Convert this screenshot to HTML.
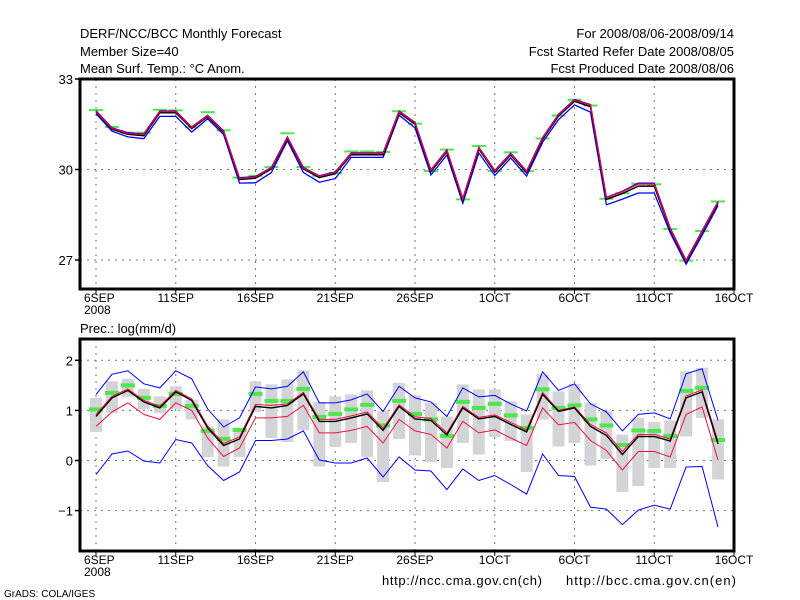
<!DOCTYPE html>
<html><head><meta charset="utf-8"><style>
body{margin:0;background:#fff}
svg{display:block;font-family:"Liberation Sans",sans-serif}
</style></head><body>
<svg id="chart" width="800" height="600" xmlns="http://www.w3.org/2000/svg">
<rect width="800" height="600" fill="#fff"/>
<g font-size="13" fill="#000">
<text x="80" y="38">DERF/NCC/BCC Monthly Forecast</text>
<text x="80" y="56">Member Size=40</text>
<text x="80" y="73">Mean Surf. Temp.: °C Anom.</text>
<text x="734" y="38" text-anchor="end">For 2008/08/06-2008/09/14</text>
<text x="734" y="56" text-anchor="end">Fcst Started Refer Date 2008/08/05</text>
<text x="734" y="73" text-anchor="end">Fcst Produced Date 2008/08/06</text>
<text x="80" y="333">Prec.: log(mm/d)</text>
<text x="382" y="585" textLength="160">http://ncc.cma.gov.cn(ch)</text>
<text x="566" y="585" textLength="170">http://bcc.cma.gov.cn(en)</text>
<text x="4" y="597" font-size="10">GrADS: COLA/IGES</text>
</g>
<g id="top"></g>
<g id="bot"></g>
</svg>
<script>
const xTickLabels = ["6SEP","11SEP","16SEP","21SEP","26SEP","1OCT","6OCT","11OCT","16OCT"];
const tTicks = [33,30,27];
const pTicks = [2,1,0,-1];
const tBlack = [31.91,31.33,31.17,31.12,31.88,31.88,31.36,31.75,31.23,29.67,29.71,30.02,31.03,30.02,29.73,29.86,30.49,30.49,30.49,31.88,31.5,29.93,30.59,28.98,30.68,29.91,30.48,29.89,31.0,31.77,32.26,32.08,29.01,29.2,29.45,29.45,28.0,26.94,27.92,28.88];
const tRed = [31.93,31.36,31.2,31.16,31.92,31.92,31.39,31.78,31.26,29.7,29.75,30.05,31.06,30.05,29.77,29.9,30.53,30.53,30.53,31.92,31.54,29.97,30.63,29.02,30.72,29.95,30.52,29.93,31.04,31.81,32.3,32.13,29.06,29.26,29.52,29.52,28.04,26.97,27.95,28.92];
const tBlueHi = [31.95,31.38,31.22,31.18,31.94,31.94,31.41,31.8,31.28,29.72,29.77,30.07,31.08,30.07,29.79,29.92,30.55,30.55,30.55,31.94,31.56,29.99,30.65,29.04,30.74,29.97,30.54,29.95,31.06,31.83,32.32,32.15,29.08,29.28,29.55,29.55,28.06,26.99,27.97,28.94];
const tBlueLo = [31.85,31.27,31.08,31.02,31.76,31.76,31.24,31.68,31.16,29.55,29.56,29.9,30.95,29.9,29.58,29.7,30.4,30.4,30.4,31.8,31.38,29.82,30.48,28.88,30.55,29.8,30.38,29.78,30.9,31.65,32.14,31.9,28.83,29.02,29.22,29.22,27.9,26.86,27.82,28.8];
const tObs = [31.97,31.41,31.22,31.22,31.98,31.96,31.4,31.9,31.3,29.73,29.79,30.08,31.2,30.08,29.79,29.88,30.6,30.6,30.58,31.93,31.52,29.95,30.66,29.01,30.78,29.95,30.57,29.95,31.03,31.79,32.31,32.12,29.03,29.21,29.53,29.51,28.03,26.98,27.96,28.94];
const pBlack = [0.88,1.25,1.4,1.17,1.05,1.37,1.2,0.65,0.3,0.43,1.08,1.05,1.1,1.33,0.78,0.78,0.85,0.93,0.6,1.08,0.83,0.8,0.51,1.05,0.83,0.88,0.72,0.57,1.32,0.98,1.05,0.68,0.5,0.12,0.48,0.48,0.39,1.25,1.37,0.33];
const pRedHi = [0.92,1.28,1.43,1.2,1.08,1.4,1.23,0.69,0.34,0.47,1.12,1.1,1.13,1.36,0.82,0.82,0.89,0.97,0.64,1.11,0.87,0.84,0.55,1.08,0.86,0.91,0.76,0.61,1.36,1.0,1.07,0.72,0.55,0.18,0.52,0.52,0.43,1.29,1.41,0.38];
const pRedLo = [0.68,0.97,1.15,0.92,0.82,1.15,1.0,0.45,0.08,0.25,0.85,0.85,0.88,1.1,0.55,0.55,0.6,0.68,0.35,0.82,0.59,0.52,0.25,0.78,0.55,0.61,0.45,0.3,1.05,0.71,0.76,0.4,0.2,-0.19,0.18,0.18,0.07,0.92,1.07,0.01];
const pBlueHi = [1.32,1.72,1.79,1.53,1.45,1.79,1.63,1.03,0.67,0.85,1.47,1.43,1.48,1.77,1.15,1.15,1.21,1.33,0.98,1.48,1.25,1.17,0.88,1.45,1.27,1.3,1.13,0.99,1.77,1.4,1.53,1.13,0.97,0.59,0.92,0.95,0.83,1.73,1.83,0.8];
const pBlueLo = [-0.28,0.13,0.19,-0.01,-0.05,0.42,0.35,-0.1,-0.4,-0.23,0.4,0.4,0.43,0.59,0.01,-0.05,-0.05,0.05,-0.33,0.07,-0.19,-0.21,-0.58,-0.17,-0.4,-0.3,-0.48,-0.67,0.13,-0.3,-0.32,-0.93,-0.97,-1.28,-0.99,-0.89,-0.97,-0.13,-0.12,-1.33];
const pObs = [1.02,1.35,1.5,1.25,1.09,1.33,1.09,0.59,0.43,0.61,1.33,1.19,1.19,1.43,0.87,0.93,1.02,1.11,0.7,1.19,0.93,0.82,0.49,1.17,1.05,1.13,0.9,0.65,1.42,1.05,1.1,0.82,0.7,0.31,0.6,0.59,0.49,1.39,1.45,0.41];
const pRangeHi = [1.25,1.58,1.63,1.43,1.28,1.48,1.21,0.68,0.82,0.65,1.58,1.52,1.62,1.8,1.17,1.28,1.32,1.4,0.99,1.55,1.3,1.15,0.88,1.52,1.42,1.42,1.18,0.92,1.72,1.38,1.53,1.15,0.99,0.52,0.85,0.77,0.8,1.78,1.85,0.82];
const pRangeLo = [0.57,0.95,1.27,1.02,0.95,1.03,0.82,0.07,-0.12,0.07,0.97,0.45,0.37,0.6,-0.12,0.27,0.35,0.07,-0.43,0.43,0.1,-0.03,-0.15,0.35,0.12,0.47,0.39,-0.23,0.82,0.28,0.35,-0.1,0.03,-0.63,-0.51,-0.15,-0.15,0.48,0.85,-0.38];

const NS="http://www.w3.org/2000/svg";
const X0=96, DX=(734-96)/40, L=80, R=734;
const xs = i => X0 + i*DX;
const yT = v => 169.5 - (v-30)*30.17;
const yP = v => 460.5 - v*50.1;
function mk(tag, attrs, parent){const e=document.createElementNS(NS,tag);for(const k in attrs)e.setAttribute(k,attrs[k]);parent.appendChild(e);return e;}
function pts(arr,f){return arr.map((v,i)=>xs(i).toFixed(1)+","+f(v).toFixed(1)).join(" ");}

function panel(g, top, bot, ticks, yf, series, obs, rHi, rLo, ob){
  // grid
  ticks.forEach(t=>{
    const y=yf(t);
    const l=mk('line',{x1:L,x2:R,y1:y,y2:y,stroke:'#777','stroke-dasharray':'2,5'},g);
    
    
    const tk=mk('line',{x1:L-5,x2:L,y1:y,y2:y,stroke:'#000','stroke-width':1.5},g);
    
    
    const tx=mk('text',{x:L-7,y:y+5,'text-anchor':'end','font-size':13},g);
    tx.textContent = t<0 ? '\u2212'+Math.abs(t) : String(t);
    
    
  });
  xTickLabels.forEach((lab,k)=>{
    const x=xs(k*5);
    const l=mk('line',{x1:x,x2:x,y1:top,y2:bot,stroke:'#777','stroke-dasharray':'2,5'},g);
    
    
    const tk=mk('line',{x1:x,x2:x,y1:bot,y2:bot+5,stroke:'#000'},g);
    
    
    const tx=mk('text',{x:x-(k==0?12:0),y:bot+13,'text-anchor':k==0?'start':'middle','font-size':12},g);
    tx.textContent=lab;
    
    
  });
  const yr=mk('text',{x:xs(0)-12,y:bot+25,'font-size':12},g);
  yr.textContent='2008';
  
  
  // ranges
  if(rHi){
    rHi.forEach((v,i)=>{
      const r=mk('rect',{x:xs(i)-6,y:yf(v),width:12,height:yf(rLo[i])-yf(v),fill:'#d3d4d8'},g);
      
      
    });
  }
  obs.forEach((v,i)=>{
    const r=mk('rect',{x:xs(i)-ob[0]/2,y:yf(v)-ob[1]/2,width:ob[0],height:ob[1],fill:'#4be84b'},g);
    
    
  });
  series.forEach(s=>{
    const p=mk('polyline',{points:pts(s.d,yf),fill:'none',stroke:s.c,'stroke-width':s.w},g);
    
    
  });
  const f=mk('rect',{x:L,y:top,width:R-L,height:bot-top,fill:'none',stroke:'#000','stroke-width':3},g);
  
  
}
panel(document.getElementById('top'),79,289,tTicks,yT,[
  {d:tBlueLo,c:'#0000ff',w:1.3,n:'lower-blue-line'},
  {d:tBlueHi,c:'#0000ff',w:1.3,n:'upper-blue-line'},
  {d:tBlack,c:'#000',w:1.5,n:'ensemble-mean-line'},
  {d:tRed,c:'#ff0030',w:1.2,n:'red-line'}
],tObs,null,null,[14,2]);
panel(document.getElementById('bot'),339,551,pTicks,yP,[
  {d:pBlueHi,c:'#0000ff',w:1,n:'upper-blue-line'},
  {d:pBlueLo,c:'#0000ff',w:1,n:'lower-blue-line'},
  {d:pRedLo,c:'#ee1040',w:1,n:'lower-red-line'},
  {d:pRedHi,c:'#ee1040',w:1,n:'upper-red-line'},
  {d:pBlack,c:'#000',w:1.4,n:'ensemble-mean-line'}
],pObs,pRangeHi,pRangeLo,[14,4]);
</script>
</body></html>
